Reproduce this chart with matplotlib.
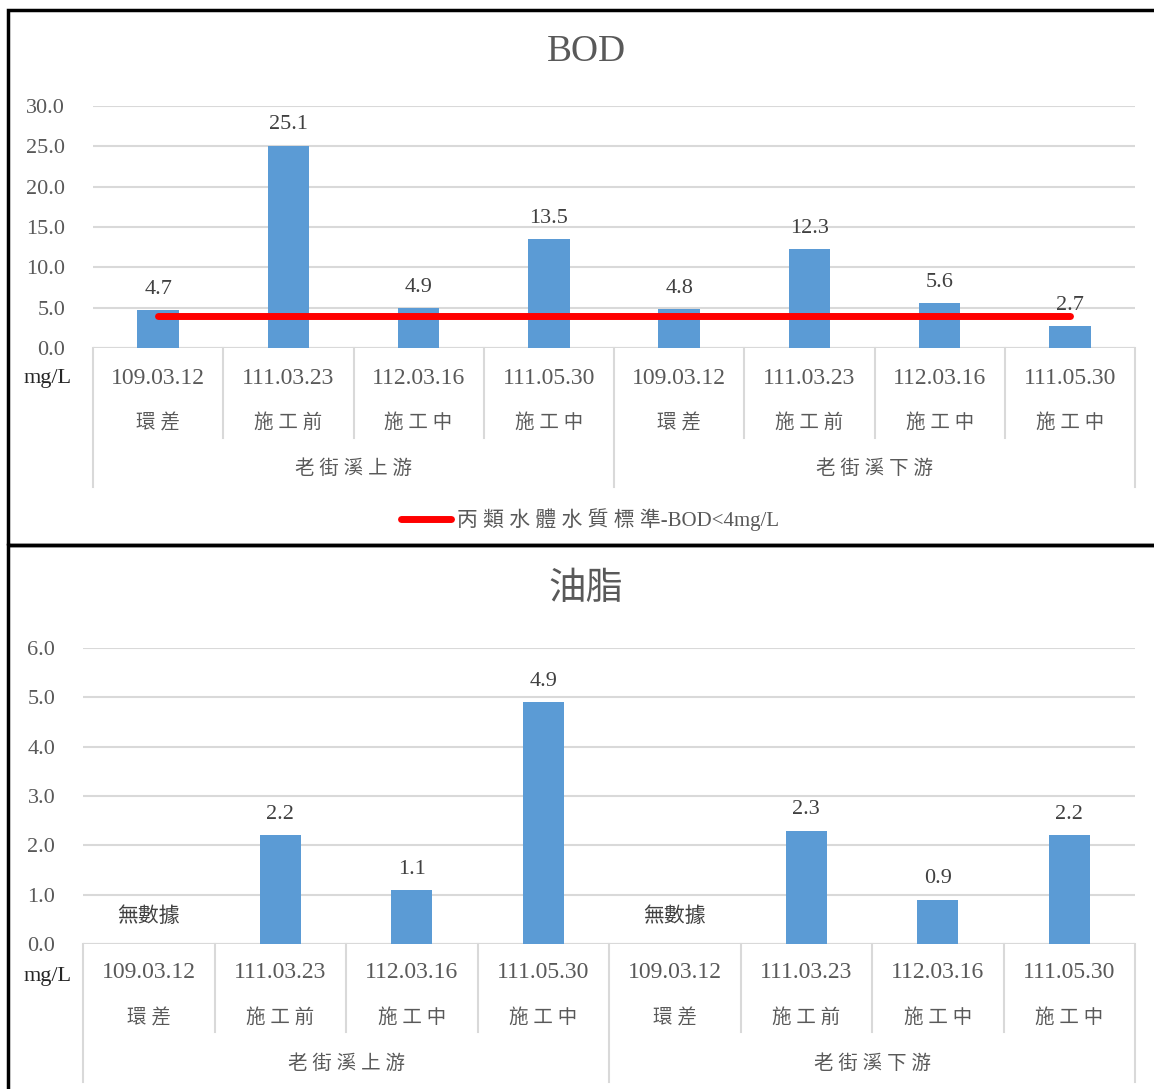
import matplotlib
matplotlib.use('Agg')
import matplotlib.pyplot as plt
from matplotlib.patches import Rectangle
from matplotlib.lines import Line2D

plt.rcParams['font.family'] = ['Liberation Serif', 'Noto Sans CJK TC']

# 資料
dates = ['109.03.12', '111.03.23', '112.03.16', '111.05.30',
         '109.03.12', '111.03.23', '112.03.16', '111.05.30']
stages = ['環差', '施工前', '施工中', '施工中', '環差', '施工前', '施工中', '施工中']
groups = ['老街溪上游', '老街溪下游']
bod = [4.7, 25.1, 4.9, 13.5, 4.8, 12.3, 5.6, 2.7]
bod_std = 4
oil = [None, 2.2, 1.1, 4.9, None, 2.3, 0.9, 2.2]

W, H = 1154, 1089
BAR = '#5B9BD5'
GRID = '#D9D9D9'
TXT = '#595959'

fig = plt.figure(figsize=(W / 100, H / 100), dpi=100)


def spaced(s):
    # 中文字間留空
    return ' '.join(s)


def add_ax(l, t, r, b):
    return fig.add_axes([l / W, 1 - b / H, (r - l) / W, (b - t) / H])


def setup(ax, h_px, ymax, step, title, title_y, rows):
    x = list(range(8))
    ax.set_xlim(-0.5, 7.5)
    ax.set_ylim(0, ymax)
    ax.set_yticks([i * step for i in range(int(round(ymax / step)) + 1)])
    ax.yaxis.set_major_formatter(matplotlib.ticker.FormatStrFormatter('%.1f'))
    ax.tick_params(axis='y', length=0, pad=20, labelsize=16, labelcolor=TXT)
    ax.set_xticks([])
    ax.grid(axis='y', color=GRID, lw=1.5)
    ax.set_axisbelow(True)
    for s in ax.spines.values():
        s.set_visible(False)
    ax.axhline(0, color=GRID, lw=1.5, zorder=1)
    d_row, s_row, g_row, short_end, long_end = rows
    for i in x:
        ax.text(i, -d_row / h_px, dates[i], transform=ax.get_xaxis_transform(),
                ha='center', va='center', fontsize=17, color=TXT)
        ax.text(i, -s_row / h_px, spaced(stages[i]), transform=ax.get_xaxis_transform(),
                ha='center', va='center', fontsize=14, color=TXT)
    for g, name in enumerate(groups):
        ax.text(1.5 + 4 * g, -g_row / h_px, spaced(name), transform=ax.get_xaxis_transform(),
                ha='center', va='center', fontsize=14, color=TXT)
    for k in range(9):
        end = long_end if k in (0, 4, 8) else short_end
        ax.plot([k - 0.5, k - 0.5], [0, -end / h_px], color=GRID, lw=1.5,
                transform=ax.get_xaxis_transform(), clip_on=False)
    fig.text(586 / W, 1 - title_y / H, title, ha='center', va='center',
             fontsize=27, color=TXT)


# BOD
ax1 = add_ax(93, 106, 1135, 348)
setup(ax1, 242, 30, 5, 'BOD', 52, (30, 75, 121, 90, 139))
x = list(range(8))
ax1.bar(x, bod, width=0.32, color=BAR, zorder=2)
for xi, v in zip(x, bod):
    ax1.annotate(f'{v:.1f}', (xi, v), xytext=(0, 8), textcoords='offset points',
                 ha='center', va='bottom', fontsize=16, color='#404040')
ax1.plot(x, [bod_std] * len(x), color='#FF0000', lw=5, solid_capstyle='round', zorder=3)
fig.text(48 / W, 1 - 378 / H, 'mg/L', ha='center', va='center', fontsize=16, color='#262626')
handle = Line2D([], [], color='#FF0000', lw=5, solid_capstyle='round')
fig.legend([handle], [spaced('丙類水體水質標準') + '-BOD<4mg/L'], loc='center',
           bbox_to_anchor=(590 / W, 1 - 520 / H), frameon=False, fontsize=15,
           labelcolor=TXT, handlelength=2.4, handletextpad=0.3)

# 油脂
ax2 = add_ax(83, 648, 1135, 944)
setup(ax2, 296, 6, 1, '油脂', 590, (29, 74, 120, 88, 138))
xs = [i for i, v in enumerate(oil) if v is not None]
vs = [v for v in oil if v is not None]
ax2.bar(xs, vs, width=0.31, color=BAR, zorder=2)
for xi, v in zip(xs, vs):
    ax2.annotate(f'{v:.1f}', (xi, v), xytext=(0, 8), textcoords='offset points',
                 ha='center', va='bottom', fontsize=16, color='#404040')
for i, v in enumerate(oil):
    if v is None:
        ax2.text(i, 0.55, '無數據', ha='center', va='center', fontsize=15, color='#404040')
fig.text(48 / W, 1 - 977 / H, 'mg/L', ha='center', va='center', fontsize=16, color='#262626')

# 外框
fig.patches.append(Rectangle((8 / W, 1 - 545 / H), 1.1, (545 - 10) / H,
                             transform=fig.transFigure, fill=False, ec='black', lw=2.5))
fig.patches.append(Rectangle((8 / W, -0.1), 1.1, 0.1 + (1089 - 545) / H,
                             transform=fig.transFigure, fill=False, ec='black', lw=2.5))

fig.savefig('out.png', dpi=100)
